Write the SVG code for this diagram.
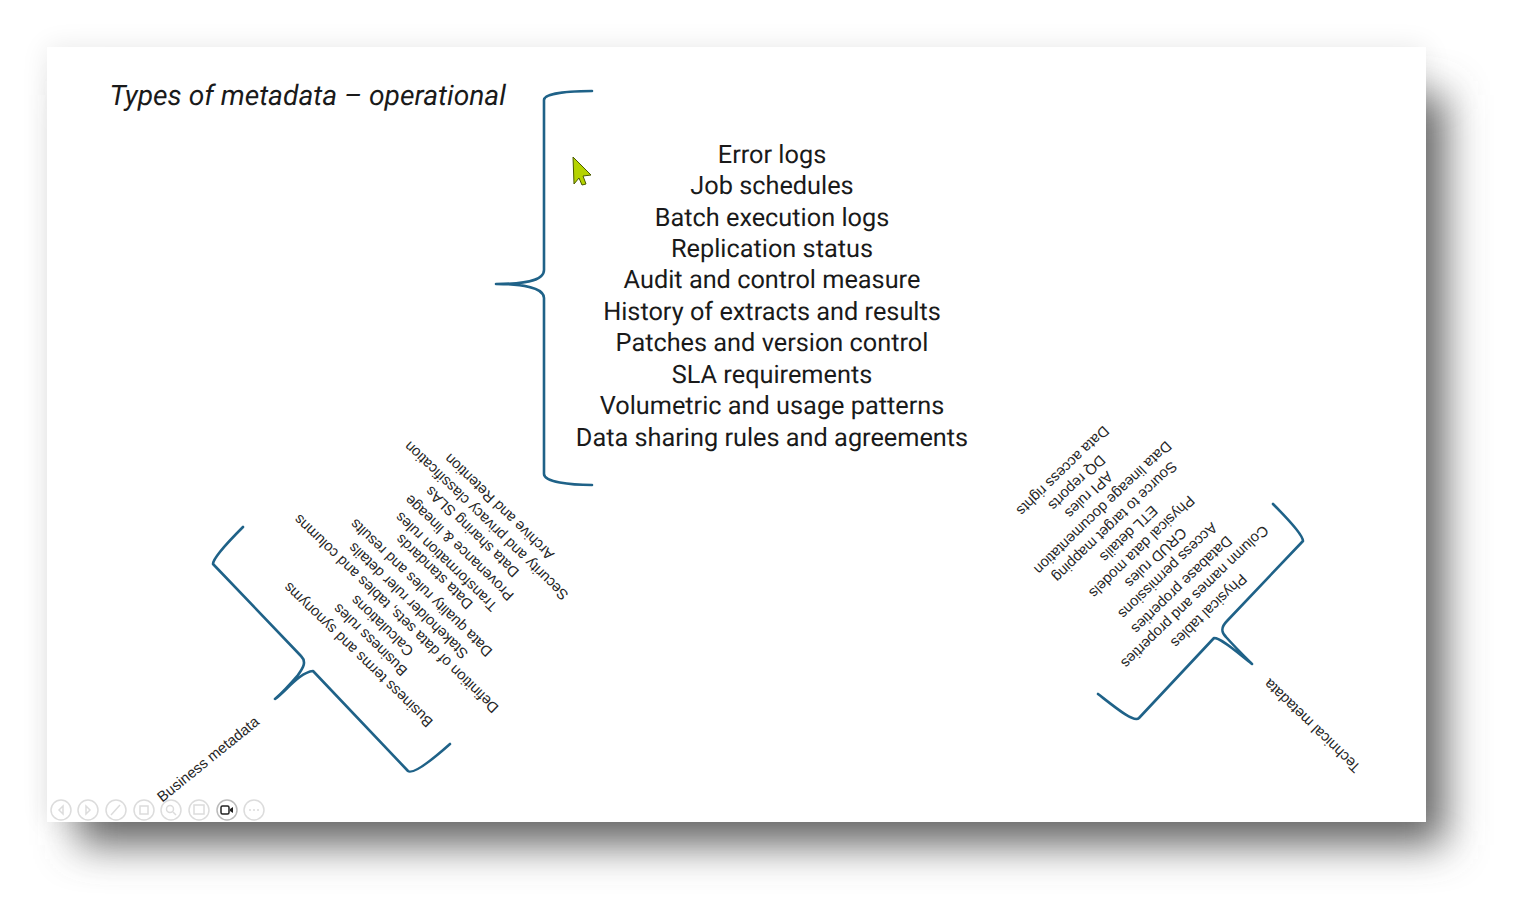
<svg xmlns="http://www.w3.org/2000/svg" width="1521" height="917" viewBox="0 0 1521 917">
<style>
text{font-family:"Roboto","Liberation Sans",sans-serif;fill:#1a1a1a;text-rendering:geometricPrecision}
.m{font-size:25.3px;text-anchor:middle}
.s{font-family:"Liberation Sans",Arial,sans-serif;font-size:14.8px;text-anchor:middle;fill:#262626}
.t{font-size:28.2px;font-style:italic}
.b{fill:none;stroke:#1f6288;stroke-width:2.6;stroke-linecap:round;stroke-linejoin:round}
.i{fill:none;stroke:#dcdcdc;stroke-width:1.5}
</style>
<defs>
<filter id="sh" x="-10%" y="-15%" width="120%" height="130%"><feGaussianBlur stdDeviation="20"/></filter>
<filter id="ha" x="-10%" y="-15%" width="120%" height="130%"><feGaussianBlur stdDeviation="14"/></filter>
</defs>
<rect width="1521" height="917" fill="#fff"/>
<rect x="47" y="47" width="1379" height="775" fill="#000" opacity=".09" filter="url(#ha)"/>
<rect x="78" y="95" width="1367" height="750" fill="#666" filter="url(#sh)"/>
<rect x="47" y="47" width="1379" height="775" fill="#fff"/>
<g id="title"><text class="t" x="109.500" y="104.500">Types of metadata – operational</text></g>
<g id="connectors">
<path class="b" d="M592 91C570 91 544 93 544 100V270C544 282 520 284 496 284C520 284 544 287 544 298V474C544 482 570 485 592 485"/>
<path class="b" d="M243 527C232 538 213 558 213 564L301 656C307 662 303 668 298 675C292 682 284 691 275 699C285 692 300 672 313 671L408 771C413 775 432 760 450 744"/>
<path class="b" d="M1273 504C1284 515 1303 534 1303 541L1227 621C1219 629 1223 634 1226 637C1234 646 1243 655 1252 664C1240 655 1222 638 1214 638L1139 718C1134 723 1116 708 1098 694"/>
</g>
<g id="operational">
<text class="m" x="772" y="162.500">Error logs</text>
<text class="m" x="772" y="194">Job schedules</text>
<text class="m" x="772" y="225.500">Batch execution logs</text>
<text class="m" x="772" y="257">Replication status</text>
<text class="m" x="772" y="288">Audit and control measure</text>
<text class="m" x="772" y="319.500">History of extracts and results</text>
<text class="m" x="772" y="351">Patches and version control</text>
<text class="m" x="772" y="382.500">SLA requirements</text>
<text class="m" x="772" y="414">Volumetric and usage patterns</text>
<text class="m" x="772" y="445.500">Data sharing rules and agreements</text>
</g>
<g id="business-list">
<text class="s" dy=".35em" transform="translate(358 655) rotate(224)">Business terms and synonyms</text>
<text class="s" dy=".35em" transform="translate(370 640) rotate(224)">Business rules</text>
<text class="s" dy=".35em" transform="translate(382 626) rotate(224)">Calculations</text>
<text class="s" dy=".35em" transform="translate(396 614) rotate(224)">Definition of data sets, tables and columns</text>
<text class="s" dy=".35em" transform="translate(408 601) rotate(224)">Stakeholder ruler details</text>
<text class="s" dy=".35em" transform="translate(421 588) rotate(224)">Data quality rules and results</text>
<text class="s" dy=".35em" transform="translate(434 572) rotate(224)">Data standards</text>
<text class="s" dy=".35em" transform="translate(446 562) rotate(224)">Transformation rules</text>
<text class="s" dy=".35em" transform="translate(459 548) rotate(224)">Provenance &amp; lineage</text>
<text class="s" dy=".35em" transform="translate(472 532) rotate(224)">Data sharing SLAs</text>
<text class="s" dy=".35em" transform="translate(486 521) rotate(224)">Security and privacy classification</text>
<text class="s" dy=".35em" transform="translate(499 507) rotate(224)">Archive and Retention</text>
</g>
<g id="business-label"><text class="s" dy=".35em" transform="translate(208 759) rotate(-39)">Business metadata</text></g>
<g id="technical-list">
<text class="s" dy=".35em" transform="translate(1063 471) rotate(136)">Data access rights</text>
<text class="s" dy=".35em" transform="translate(1077 483) rotate(136)">DQ reports</text>
<text class="s" dy=".35em" transform="translate(1089 495) rotate(136)">API rules</text>
<text class="s" dy=".35em" transform="translate(1103 508) rotate(136)">Data lineage documentation</text>
<text class="s" dy=".35em" transform="translate(1115 522) rotate(136)">Source to target mapping</text>
<text class="s" dy=".35em" transform="translate(1129 534) rotate(136)">ETL details</text>
<text class="s" dy=".35em" transform="translate(1142 547) rotate(136)">Physical data models</text>
<text class="s" dy=".35em" transform="translate(1156 558) rotate(136)">CRUD rules</text>
<text class="s" dy=".35em" transform="translate(1168 571) rotate(136)">Access permissions</text>
<text class="s" dy=".35em" transform="translate(1182 585) rotate(136)">Database properties</text>
<text class="s" dy=".35em" transform="translate(1195 597) rotate(136)">Column names and properties</text>
<text class="s" dy=".35em" transform="translate(1209 611) rotate(136)">Physical tables</text>
</g>
<g id="technical-label"><text class="s" dy=".35em" transform="translate(1312 726) rotate(224)">Technical metadata</text></g>
<g id="cursor"><path d="M573 157L591 175L583 176L586 184L582 185L579 178L574 184Z" fill="#b5d300" stroke="#4a5a00" stroke-width="1"/></g>
<g id="toolbar">
<circle class="i" cx="61" cy="810" r="10"/><path class="i" d="M63 806L59 810L63 814Z"/>
<circle class="i" cx="88" cy="810" r="10"/><path class="i" d="M86 806L90 810L86 814Z"/>
<circle class="i" cx="116" cy="810" r="10"/><path class="i" d="M111 815L120 805"/>
<circle class="i" cx="144" cy="810" r="10"/><rect class="i" x="140" y="806" width="8" height="8"/>
<circle class="i" cx="171" cy="810" r="10"/><circle class="i" cx="170" cy="809" r="3.5"/><path class="i" d="M173 812L176 815"/>
<circle class="i" cx="199" cy="810" r="10"/><rect class="i" x="194" y="805" width="10" height="9"/>
<circle cx="227" cy="810" r="10" fill="#fff" stroke="#bbb" stroke-width="1.5"/><rect x="221" y="806" width="8" height="8" rx="1.5" fill="none" stroke="#222" stroke-width="1.5"/><path d="M230 809L233 807V813L230 811Z" fill="#222"/>
<circle class="i" cx="254" cy="810" r="10"/><path class="i" d="M249 810H259" stroke-dasharray="2 2"/>
</g>
</svg>
